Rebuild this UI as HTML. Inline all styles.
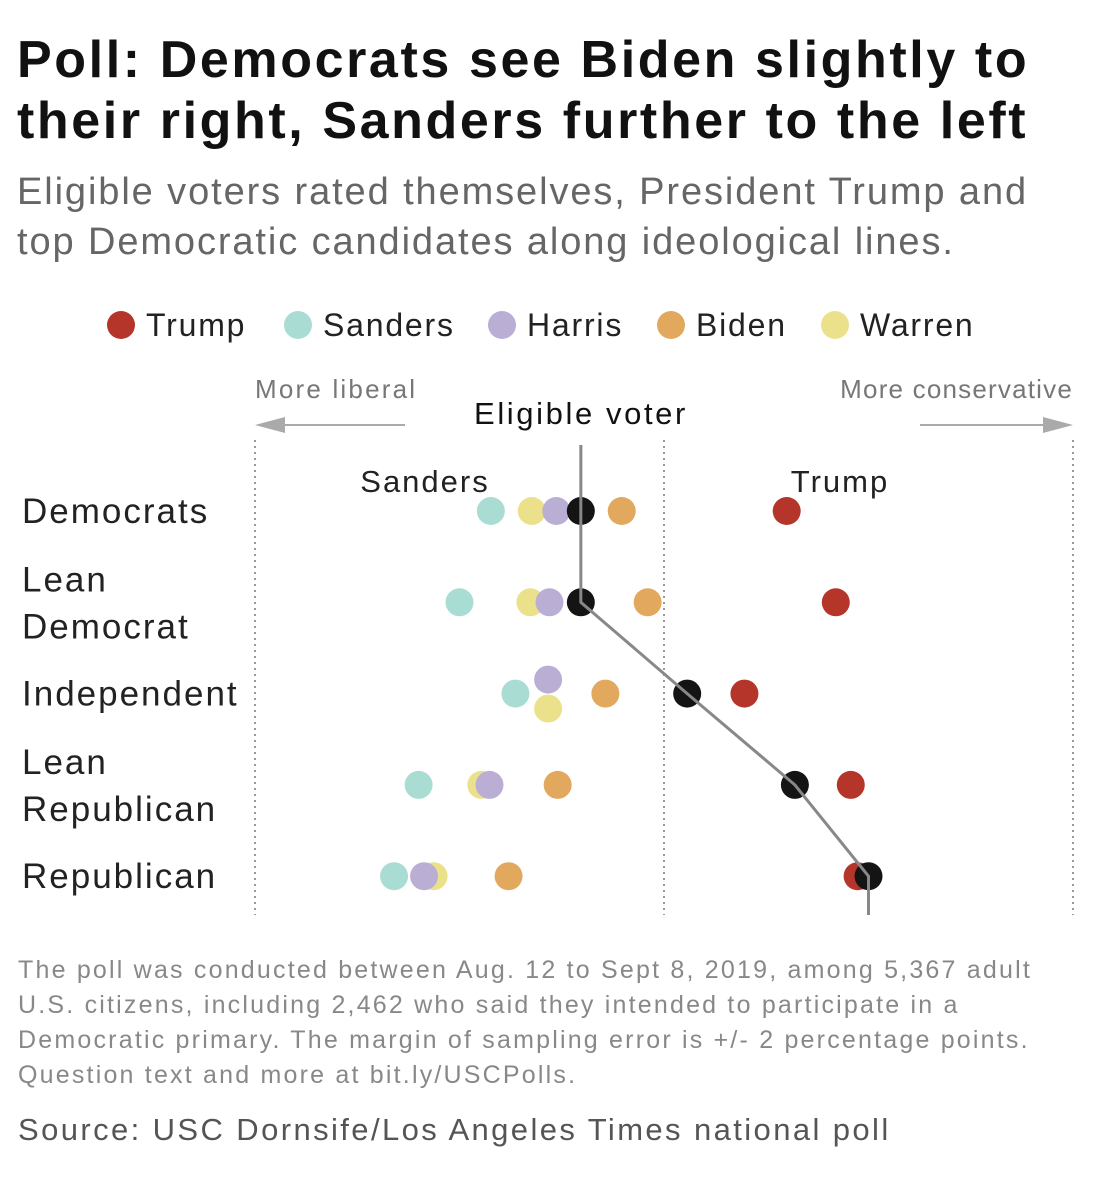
<!DOCTYPE html>
<html><head><meta charset="utf-8"><style>
body{margin:0;background:#fff;width:1096px;height:1200px;overflow:hidden;font-family:"Liberation Sans",sans-serif;}
.t{position:absolute;white-space:nowrap}
</style></head><body>
<div class="t" style="left:17px;top:30px;font-size:52px;font-weight:bold;line-height:61px;color:#111;letter-spacing:2.6px">Poll: Democrats see Biden slightly to<br>their right, Sanders further to the left</div>
<div class="t" style="left:17px;top:167px;font-size:38px;line-height:50px;color:#666;letter-spacing:1.9px">Eligible voters rated themselves, President Trump and<br>top Democratic candidates along ideological lines.</div>
<svg id="chart" width="1096" height="1200" style="position:absolute;left:0;top:0"></svg>
<div class="t" style="left:18px;top:953px;font-size:25px;line-height:35px;color:#888;letter-spacing:2.2px">The poll was conducted between Aug. 12 to Sept 8, 2019, among 5,367 adult<br>U.S. citizens, including 2,462 who said they intended to participate in a<br>Democratic primary. The margin of sampling error is +/- 2 percentage points.<br>Question text and more at bit.ly/USCPolls.</div>
<div class="t" style="left:18px;top:1112px;font-size:31px;color:#555;letter-spacing:2.4px">Source: USC Dornsife/Los Angeles Times national poll</div>
<script>
const groups=["Democrats","Lean Democrat","Independent","Lean Republican","Republican"];
const seriesNames=["Trump","Sanders","Harris","Biden","Warren","Eligible voter"];
const trump=[4.90,5.26,4.59,5.37,5.42];
const sanders=[2.73,2.50,2.91,2.20,2.02];
const harris=[3.21,3.16,3.15,2.72,2.24];
const biden=[3.69,3.88,3.57,3.22,2.86];
const warren=[3.03,3.02,3.15,2.66,2.31];
const voter=[3.39,3.39,4.17,4.96,5.50];
const colors={Trump:"#b5352b",Sanders:"#a9ddd3",Harris:"#bbaed5",Biden:"#e2a95e",Warren:"#ece18b","Eligible voter":"#141414"};
const NS="http://www.w3.org/2000/svg";
const svg=document.getElementById("chart");
const x=v=>255+(v-1)*(1073-255)/6;
const y=i=>511+i*91.3;
function mk(tag,attrs,parent){const e=document.createElementNS(NS,tag);for(const k in attrs)e.setAttribute(k,attrs[k]);(parent||svg).appendChild(e);return e;}
[1,4,7].forEach(v=>{const l=mk("line",{x1:x(v),x2:x(v),y1:440,y2:915,stroke:"#999","stroke-width":2,"stroke-dasharray":"2,4"});

});
const lx=[121,298,502,671,835];
["Trump","Sanders","Harris","Biden","Warren"].forEach((n,i)=>{const g=mk("g",{});


mk("circle",{cx:lx[i],cy:325,r:14,fill:colors[n]},g);
const t=mk("text",{x:lx[i]+25,y:336,"font-size":32,fill:"#222","letter-spacing":"1.8"},g);t.textContent=n;});
function label(txt,xx,yy,size,fill,anchor,name,ls){const t=mk("text",{x:xx,y:yy,"font-size":size,fill:fill,"text-anchor":anchor||"start","letter-spacing":ls||0});t.textContent=txt;

return t;}
label("More liberal",255,398,26,"#777","start","liberal-label",2.2);
label("More conservative",1073,398,26,"#777","end","conservative-label",1.2);
mk("line",{x1:405,x2:270,y1:425,y2:425,stroke:"#aaa","stroke-width":2});
mk("polygon",{points:"255,425 285,417 285,433",fill:"#aaa"});
mk("line",{x1:920,x2:1058,y1:425,y2:425,stroke:"#aaa","stroke-width":2});
mk("polygon",{points:"1073,425 1043,417 1043,433",fill:"#aaa"});
label("Eligible voter",581,424,31,"#111","middle","voter-annotation",2.6);
label("Sanders",425,492,31,"#222","middle","sanders-annotation",2);
label("Trump",840,492,31,"#222","middle","trump-annotation",2);
const rl=[["Democrats"],["Lean","Democrat"],["Independent"],["Lean","Republican"],["Republican"]];
rl.forEach((ls,i)=>{const off=ls.length==1?[12]:[-11,36];ls.forEach((s,j)=>{label(s,22,y(i)+off[j],35,"#222","start","row-label-"+i,2);});});
const data={Sanders:sanders,Warren:warren,Harris:harris,Biden:biden,Trump:trump};
groups.forEach((g,i)=>{
 ["Sanders","Biden","Warren","Harris","Trump"].forEach(n=>{let dy=0;
  if(i==2&&n=="Harris")dy=-14; if(i==2&&n=="Warren")dy=15;
  const c=mk("circle",{cx:x(data[n][i]),cy:y(i)+dy,r:14,fill:colors[n]});
  
  });
 const v=mk("circle",{cx:x(voter[i]),cy:y(i),r:14,fill:colors["Eligible voter"]});
 
 
});
let d="M"+x(voter[0])+",445 ";
voter.forEach((v,i)=>{d+="L"+x(v)+","+y(i)+" ";});
d+="L"+x(voter[4])+",915";
const p=mk("path",{d:d,fill:"none",stroke:"#888","stroke-width":3});


</script>
</body></html>
